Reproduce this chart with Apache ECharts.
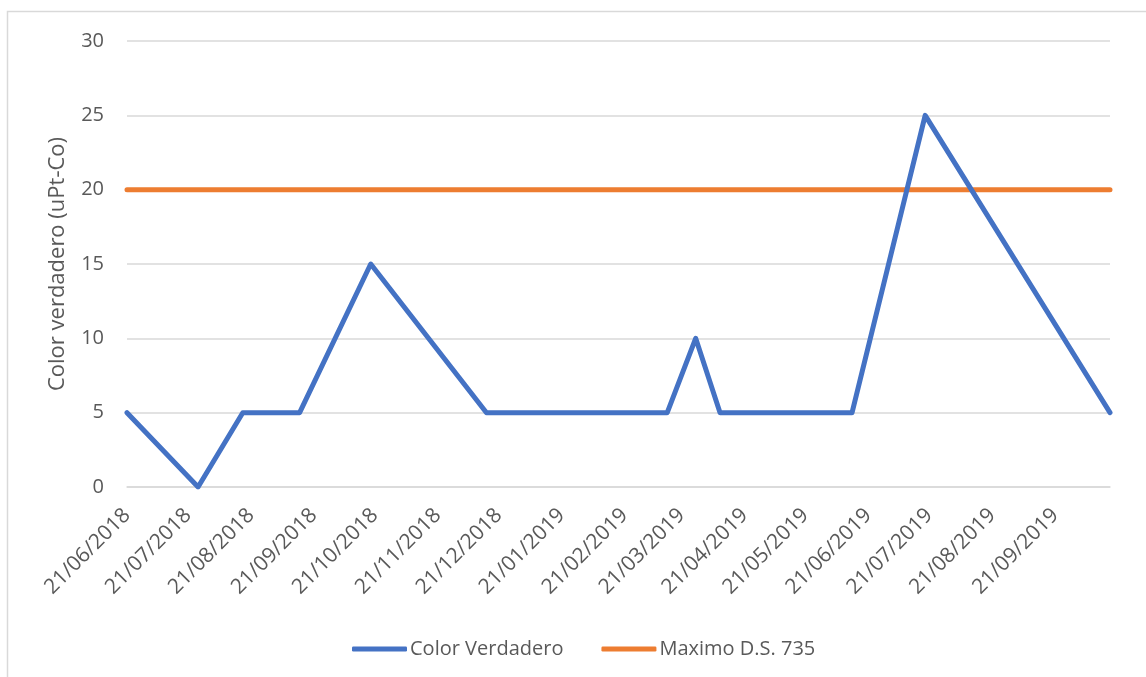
<!DOCTYPE html>
<html>
<head>
<meta charset="utf-8">
<script src="https://cdn.jsdelivr.net/npm/echarts@6/dist/echarts.min.js"></script>
<style>
html,body{margin:0;padding:0;background:#fff;}
#main{width:1146px;height:677px;}
</style>
</head>
<body>
<div id="main"></div>
<script>
// ---- data ----
const sampleDates = ['2018-06-21','2018-07-26','2018-08-17','2018-09-14','2018-10-19','2018-12-15','2019-03-14','2019-03-28','2019-04-09','2019-06-13','2019-07-19','2019-10-18'];
const colorVerdadero = [5, 0, 5, 5, 15, 5, 5, 10, 5, 5, 25, 5];
const maximoDS735 = [20, 20, 20, 20, 20, 20, 20, 20, 20, 20, 20, 20];
const xTickLabels = ['21/06/2018','21/07/2018','21/08/2018','21/09/2018','21/10/2018','21/11/2018','21/12/2018','21/01/2019','21/02/2019','21/03/2019','21/04/2019','21/05/2019','21/06/2019','21/07/2019','21/08/2019','21/09/2019'];
const yTicks = [0, 5, 10, 15, 20, 25, 30];
const seriesNames = ['Color Verdadero', 'Maximo D.S. 735'];
const yAxisTitle = 'Color verdadero (uPt-Co)';

function isoToTs(s){ const p = s.split('-').map(Number); return Date.UTC(p[0], p[1]-1, p[2]); }
function dmyToTs(s){ const p = s.split('/').map(Number); return Date.UTC(p[2], p[1]-1, p[0]); }
function pad(n){ return (n<10?'0':'')+n; }
function fmt(ts){ const d = new Date(ts); return pad(d.getUTCDate())+'/'+pad(d.getUTCMonth()+1)+'/'+d.getUTCFullYear(); }

const xs = sampleDates.map(isoToTs);
const tickTs = xTickLabels.map(dmyToTs);
const FONT = '"Open Sans", sans-serif';
const TXT = '#595959';

const chart = echarts.init(document.getElementById('main'), null, {renderer:'canvas'});
chart.setOption({
  backgroundColor: '#ffffff',
  animation: false,
  graphic: [{
    type: 'rect', silent: true,
    shape: {x: 7.5, y: 11.5, width: 1300, height: 800},
    style: {fill: 'none', stroke: '#D9D9D9', lineWidth: 1.5}
  }],
  grid: {left: 127, right: 36, top: 41, bottom: 190},
  legend: {
    left: 347, top: 634,
    icon: 'roundRect',
    itemWidth: 55, itemHeight: 5, itemGap: 38,
    textStyle: {fontFamily: FONT, fontSize: 20, color: TXT, padding: [0,0,0,-2]},
    data: seriesNames
  },
  xAxis: {
    type: 'value',
    min: xs[0], max: xs[xs.length-1],
    axisLine: {show: true, onZero: false, lineStyle: {color: '#D9D9D9', width: 1.5}},
    axisTick: {show: false},
    splitLine: {show: false},
    axisLabel: {
      customValues: tickTs,
      rotate: 45, margin: 25,
      fontFamily: FONT, fontSize: 21, color: TXT,
      formatter: function(v){ return fmt(v); },
      showMinLabel: true, showMaxLabel: true
    }
  },
  yAxis: {
    type: 'value', min: yTicks[0], max: yTicks[yTicks.length-1], interval: 5,
    name: yAxisTitle, nameLocation: 'middle', nameRotate: 90, nameGap: 58,
    nameTextStyle: {fontFamily: FONT, fontSize: 22, color: TXT},
    axisLine: {show: false}, axisTick: {show: false},
    axisLabel: {fontFamily: FONT, fontSize: 20, color: TXT, margin: 23},
    splitLine: {lineStyle: {color: '#D9D9D9', width: 1.5}}
  },
  series: [
    {
      name: seriesNames[0], type: 'line', symbol: 'none',
      data: xs.map((t,i)=>[t, colorVerdadero[i]]),
      lineStyle: {color: '#4472C4', width: 5, cap: 'round', join: 'round'},
      itemStyle: {color: '#4472C4'}, z: 3
    },
    {
      name: seriesNames[1], type: 'line', symbol: 'none',
      data: xs.map((t,i)=>[t, maximoDS735[i]]),
      lineStyle: {color: '#ED7D31', width: 5, cap: 'round'},
      itemStyle: {color: '#ED7D31'}, z: 2
    }
  ]
});
</script>
</body>
</html>
